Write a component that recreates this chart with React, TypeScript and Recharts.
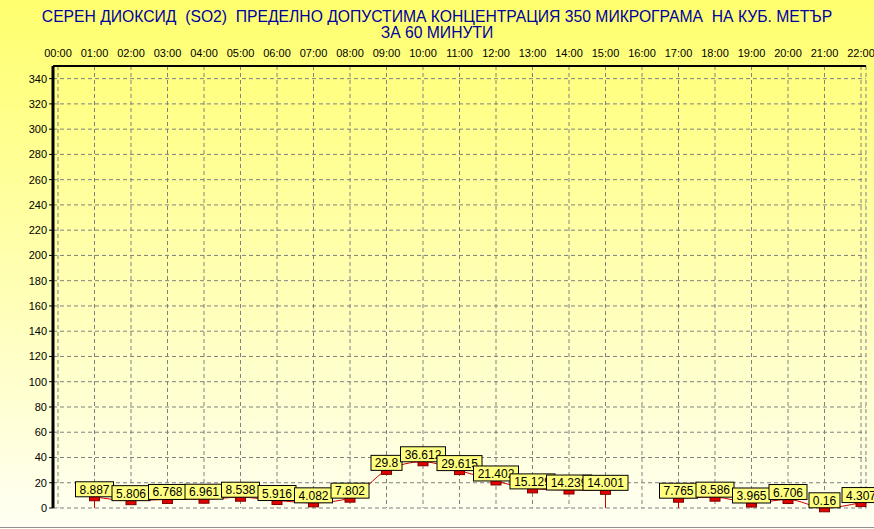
import React from "react"
import { ComposedChart, Line, XAxis, YAxis, CartesianGrid, LabelList, ReferenceLine } from "recharts"

const hours = [
  "00:00", "01:00", "02:00", "03:00", "04:00", "05:00", "06:00", "07:00", "08:00", "09:00", "10:00", "11:00",
  "12:00", "13:00", "14:00", "15:00", "16:00", "17:00", "18:00", "19:00", "20:00", "21:00", "22:00",
]

const so2 = [
  null, 8.887, 5.806, 6.768, 6.961, 8.538, 5.916, 4.082, 7.802, 29.8, 36.612, 29.615,
  21.402, 15.129, 14.239, 14.001, null, 7.765, 8.586, 3.965, 6.706, 0.16, 4.307,
]

const yTicks = [0, 20, 40, 60, 80, 100, 120, 140, 160, 180, 200, 220, 240, 260, 280, 300, 320, 340]

const titleLine1 = "СЕРЕН ДИОКСИД  (SO2)  ПРЕДЕЛНО ДОПУСТИМА КОНЦЕНТРАЦИЯ 350 МИКРОГРАМА  НА КУБ. МЕТЪР"
const titleLine2 = "ЗА 60 МИНУТИ"

const FONT = "'Liberation Sans', Arial, sans-serif"

const data = hours.map((hour, i) => ({ hour, value: so2[i] }))

// точки на границата на прекъсване -> вертикална линия до нулата
const edges = data.filter((d, i) => {
  if (d.value == null) return false
  const prev = i > 0 ? data[i - 1].value : 0
  const next = i < data.length - 1 ? data[i + 1].value : 0
  return prev == null || next == null
})

function textWidth(s: string) {
  let w = 0
  for (const c of s) w += c === "." ? 3.34 : 6.67
  return w
}

function Marker(props: any) {
  const { cx, cy, value } = props
  if (value == null || cy == null || isNaN(cy)) return <g key={props.key} />
  return <rect key={props.key} x={cx - 5} y={cy - 1} width={10} height={5} fill="#e00000" stroke="#800000" strokeWidth={1} />
}

function ValueLabel(props: any) {
  const { x, y, value } = props
  if (value == null) return null
  const s = String(value)
  const w = Math.round(textWidth(s) + 8)
  return (
    <g>
      <rect x={x - w / 2} y={y - 15} width={w} height={15} fill="#ffff80" stroke="#000" strokeWidth={1} />
      <text x={x} y={y - 3} textAnchor="middle" fontSize={12} fontFamily={FONT} fill="#000">
        {s}
      </text>
    </g>
  )
}

export default function App() {
  return (
    <div
      style={{
        position: "absolute",
        left: 0,
        top: 0,
        width: 874,
        height: 529,
        background: "linear-gradient(to bottom, #ffff6e 0%, #ffffa8 45%, #fffff4 100%)",
        fontFamily: FONT,
      }}
    >
      <div style={{ position: "absolute", left: 0, top: 8, width: 874, textAlign: "center", color: "#0000a0", fontSize: 15.7, lineHeight: "17px", whiteSpace: "pre" }}>
        {titleLine1}
      </div>
      <div style={{ position: "absolute", left: 0, top: 24, width: 874, textAlign: "center", color: "#0000a0", fontSize: 15.7, lineHeight: "17px" }}>
        {titleLine2}
      </div>
      <div style={{ position: "absolute", left: 0, top: 527, width: 874, height: 1, background: "#909090" }} />
      <ComposedChart width={874} height={529} data={data} margin={{ top: 40, right: 8, bottom: 21, left: 0 }}>
        <CartesianGrid stroke="#808080" strokeDasharray="4 3" />
        <XAxis
          dataKey="hour"
          orientation="top"
          height={26}
          padding={{ left: 5, right: 5 }}
          interval={0}
          tickLine={false}
          tickSize={4}
          tickMargin={5}
          axisLine={{ stroke: "#000", strokeWidth: 2 }}
          tick={{ fill: "#000", fontSize: 11, fontFamily: FONT }}
        />
        <XAxis xAxisId="bottom" dataKey="hour" orientation="bottom" height={0} tick={false} tickLine={false} axisLine={{ stroke: "#000", strokeDasharray: "2 2" }} />
        <YAxis
          domain={[0, 350]}
          ticks={yTicks}
          interval={0}
          width={53}
          tickSize={4}
          tickMargin={2}
          tickLine={{ stroke: "#000" }}
          axisLine={{ stroke: "#000", strokeWidth: 3 }}
          tick={{ fill: "#000", fontSize: 11, fontFamily: FONT }}
        />
        <YAxis yAxisId="right" orientation="right" width={0} tick={false} tickLine={false} axisLine={{ stroke: "#000", strokeWidth: 2 }} />
        {edges.map((d) => (
          <ReferenceLine
            key={d.hour}
            segment={[
              { x: d.hour, y: 0 },
              { x: d.hour, y: d.value as number },
            ]}
            stroke="#d00000"
            strokeWidth={1}
          />
        ))}
        <Line
          type="monotone"
          dataKey="value"
          stroke="#d00000"
          strokeWidth={1}
          dot={Marker}
          activeDot={false}
          isAnimationActive={false}
        >
          <LabelList dataKey="value" content={ValueLabel} />
        </Line>
      </ComposedChart>
    </div>
  )
}
